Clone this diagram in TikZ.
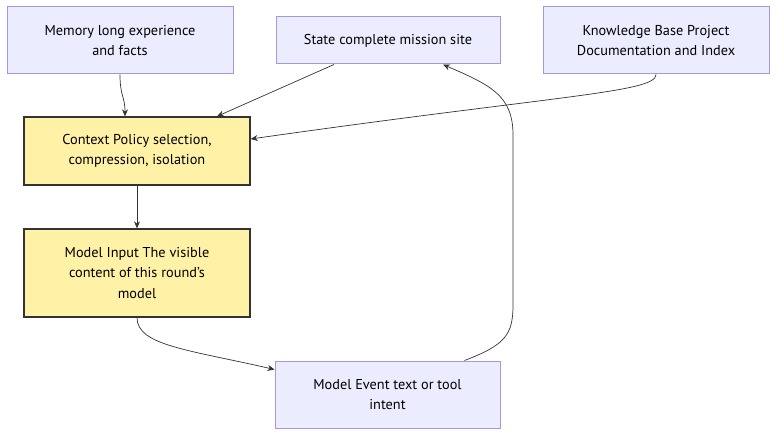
\documentclass[tikz,border=0pt]{standalone}
\usepackage{fontspec}
\setmainfont{PT Sans}
\usetikzlibrary{arrows.meta, positioning}
\definecolor{lavfill}{HTML}{ECECFF}
\definecolor{lavline}{HTML}{A897E0}
\definecolor{yelfill}{HTML}{FFF2A6}
\definecolor{edgecol}{HTML}{333333}

\tikzset{
	srcbox/.style = {draw = lavline, fill = lavfill, line width = 1pt, align = center,
		inner sep = 0pt, font = \fontsize{14.3}{20.5}\selectfont},
	ctxbox/.style = {draw = edgecol, fill = yelfill, line width = 1.3pt, align = center,
		inner sep = 0pt, font = \fontsize{14.3}{20.5}\selectfont},
	flow/.style = {draw = edgecol, line width = 0.7pt, -{Stealth[length = 7pt, width = 6pt]}}
}

\begin{document}
\begin{tikzpicture}[x = 1pt, y = -1pt]
		\useasboundingbox (0,0) rectangle (784,441);
		\draw (120,40.5) node[srcbox, minimum width = 226pt, minimum height = 67pt] (mem) {Memory long experience\\and facts}
		(388,40.5) node[srcbox, minimum width = 224pt, minimum height = 47pt] (st) {State complete mission site}
		(656,40.5) node[srcbox, minimum width = 226pt, minimum height = 67pt] (kb) {Knowledge Base Project\\Documentation and Index}
		(137,151) node[ctxbox, minimum width = 226pt, minimum height = 68pt] (ctx) {Context Policy selection,\\compression, isolation}
		(137,273) node[ctxbox, minimum width = 226pt, minimum height = 88pt] (inp) {Model Input The visible\\content of this round’s\\model}
		(387.5,394.5) node[srcbox, minimum width = 225pt, minimum height = 67pt] (ev) {Model Event text or tool\\intent};
		
		\draw[flow] (mem.south) .. controls +(0,22) and +(0,-20) .. ([xshift = 5pt]mem.south |- ctx.north);
		\draw[flow] ([xshift = -54pt]st.south) -- ([xshift = 80pt]ctx.north);
		\draw[flow] (kb.south) .. controls +(0,18) and (560,95) .. ([yshift = 12pt]ctx.east);
		\draw[flow] (ctx) -- (inp);
		\draw[flow] (inp.south) .. controls +(0,28) and (190,350) .. ([yshift = 25pt]ev.west);
		\draw[flow] ([xshift = 77pt]ev.north) .. controls (505,345) and (513,335) .. (513,305)
			-- (513,135) .. controls (513,95) and (490,85) .. ([xshift = 55pt]st.south);
	\end{tikzpicture}
\end{document}
